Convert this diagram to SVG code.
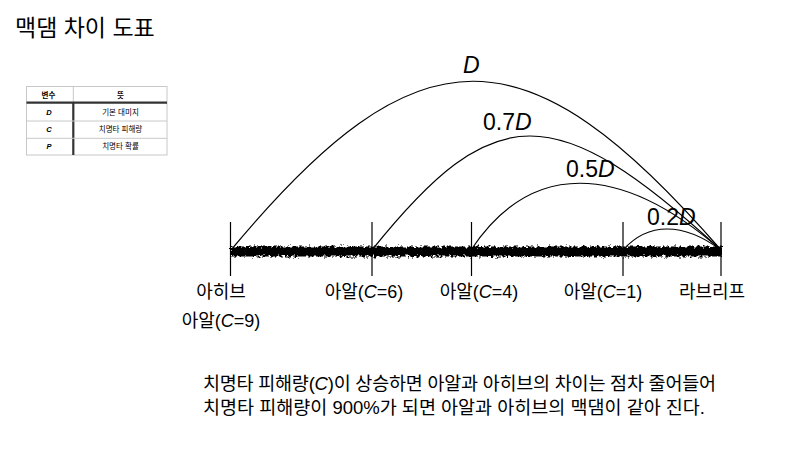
<svg xmlns="http://www.w3.org/2000/svg" width="800" height="454" viewBox="0 0 800 454">
<defs>
<style>
text{font-family:'Liberation Sans','Noto Sans CJK KR',sans-serif;fill:#000}
.title{font-size:23px}
.lbl{font-size:18px;text-anchor:middle}
.arcl{font-size:23px}
.cap{font-size:18.5px}
.th{font-size:7.5px;font-weight:bold;text-anchor:middle}
.td{font-size:7.5px;text-anchor:middle}
.tv{font-size:7.5px;font-weight:bold;font-style:italic;text-anchor:middle}
.arc{fill:none;stroke:#000;stroke-width:1.2}
.tick{stroke:#000;stroke-width:1.2}
.thin{stroke:#c8c8c8;stroke-width:1;fill:none}
.thick{stroke:#333;stroke-width:2.2}
</style>
<filter id="grain" filterUnits="userSpaceOnUse" x="220" y="235" width="515" height="35">
<feTurbulence type="fractalNoise" baseFrequency="0.35" numOctaves="3" seed="11" result="n"/>
<feDisplacementMap in="SourceGraphic" in2="n" scale="7" xChannelSelector="R" yChannelSelector="G"/>
</filter>
</defs>
<rect width="800" height="454" fill="#fff"/>
<text class="title" x="15" y="36">맥댐 차이 도표</text>

<g id="legend-table">
<rect class="thin" x="26.5" y="86.5" width="140.5" height="68.5"/>
<line class="thin" x1="73.3" y1="86.5" x2="73.3" y2="102.7"/>
<line class="thick" x1="26.5" y1="102.7" x2="167" y2="102.7"/>
<line class="thick" x1="73.3" y1="102.7" x2="73.3" y2="155"/>
<line class="thin" x1="26.5" y1="121" x2="167" y2="121"/>
<line class="thin" x1="26.5" y1="138.3" x2="167" y2="138.3"/>
<text class="th" x="48.5" y="97.5">변수</text>
<text class="th" x="120.5" y="97.5">뜻</text>
<text class="tv" x="49" y="115">D</text>
<text class="td" x="120.5" y="115">기본 대미지</text>
<text class="tv" x="49" y="132.4">C</text>
<text class="td" x="120.5" y="132.4">치명타 피해량</text>
<text class="tv" x="49" y="149.4">P</text>
<text class="td" x="120.5" y="149.4">치명타 확률</text>
</g>

<g id="axis">
<rect x="231" y="246.5" width="491" height="10" fill="#000" filter="url(#grain)"/>
<line class="tick" x1="230.5" y1="222" x2="230.5" y2="276"/>
<line class="tick" x1="372" y1="222" x2="372" y2="276"/>
<line class="tick" x1="471.5" y1="222" x2="471.5" y2="276"/>
<line class="tick" x1="623" y1="222" x2="623" y2="276"/>
<line class="tick" x1="721" y1="222" x2="721" y2="276"/>
</g>

<g id="connectors">
<path class="arc" d="M231,250 C418,25 526,25 721,250"/>
<path class="arc" d="M372,250 C494,98 555,98 721,250"/>
<path class="arc" d="M471,250 C530,161 619,161 721,250"/>
<path class="arc" d="M623,250 C648,222 683,222 721,250"/>
</g>

<g id="arc-labels">
<text class="arcl" x="463" y="73" font-style="italic">D</text>
<text class="arcl" x="483" y="130">0.7<tspan font-style="italic">D</tspan></text>
<text class="arcl" x="566" y="177">0.5<tspan font-style="italic">D</tspan></text>
<text class="arcl" x="647" y="225">0.2<tspan font-style="italic">D</tspan></text>
</g>

<g id="node-ahibeu"><text class="lbl" x="221" y="298">아히브</text></g>
<g id="node-aal9"><text class="lbl" x="221" y="327">아알(<tspan font-style="italic">C</tspan>=9)</text></g>
<g id="node-aal6"><text class="lbl" x="364" y="298">아알(<tspan font-style="italic">C</tspan>=6)</text></g>
<g id="node-aal4"><text class="lbl" x="479" y="298">아알(<tspan font-style="italic">C</tspan>=4)</text></g>
<g id="node-aal1"><text class="lbl" x="603" y="298">아알(<tspan font-style="italic">C</tspan>=1)</text></g>
<g id="node-rabeuripeu"><text class="lbl" x="712" y="298">라브리프</text></g>

<g id="caption">
<text class="cap" x="203" y="390" textLength="513" lengthAdjust="spacing">치명타 피해량(<tspan font-style="italic">C</tspan>)이 상승하면 아알과 아히브의 차이는 점차 줄어들어</text>
<text class="cap" x="203" y="414" textLength="502" lengthAdjust="spacing">치명타 피해량이 900%가 되면 아알과 아히브의 맥댐이 같아 진다.</text>
</g>
</svg>
